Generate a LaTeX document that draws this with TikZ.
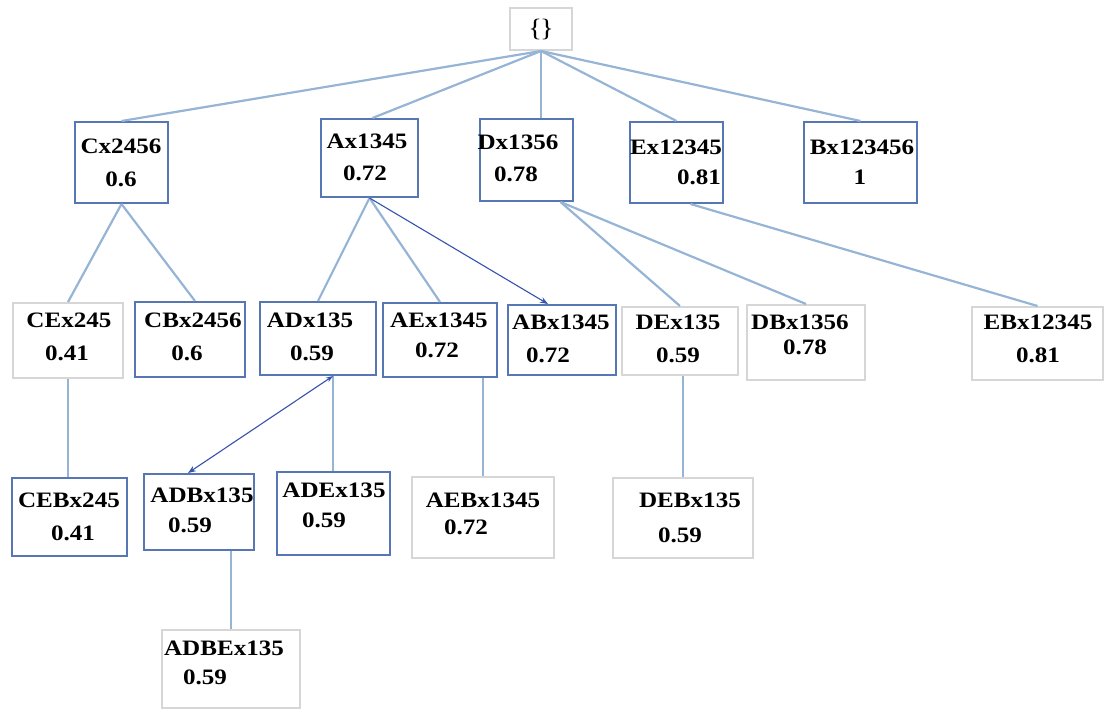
\documentclass[tikz,border=0pt]{standalone}
\usepackage{fontspec}
\setmainfont{Liberation Serif}[FakeStretch=1.14]
\usetikzlibrary{arrows.meta}
\definecolor{boxblue}{RGB}{86,119,179}
\definecolor{boxgray}{RGB}{214,214,214}
\definecolor{linkblue}{RGB}{150,180,214}
\definecolor{arrowblue}{RGB}{52,82,176}
\tikzset{
  bluebox/.style={draw=boxblue, line width=2pt, rectangle, inner sep=0pt},
  graybox/.style={draw=boxgray, line width=2pt, rectangle, inner sep=0pt},
  wh/.style 2 args={minimum width=#1pt, minimum height=#2pt},
  lbl/.style={inner sep=0pt, font=\fontsize{22}{26}\selectfont\bfseries},
  link/.style={draw=linkblue, line width=2.2pt},
  arr/.style={draw=arrowblue, line width=1.1pt, -{Stealth[length=8pt,width=6pt]}},
  darr/.style={draw=arrowblue, line width=1.1pt, {Stealth[length=7pt,width=5pt]}-{Stealth[length=8pt,width=6pt]}}
}
\begin{document}
\begin{tikzpicture}[x=1pt,y=-1pt]
\useasboundingbox (0,0) rectangle (1112,711);
% boxes
\node[graybox,wh={62}{42}] (top) at (541,29) {};
\node[bluebox,wh={93}{81}] (cx) at (121.5,162.5) {};
\node[bluebox,wh={97}{78}] (ax) at (369.5,158) {};
\node[bluebox,wh={93}{82}] (dx) at (526.5,160) {};
\node[bluebox,wh={93}{81}] (ex) at (676.5,162.5) {};
\node[bluebox,wh={113}{81}] (bx) at (860.5,162.5) {};
\node[graybox,wh={110}{75}] (cex) at (68,340.5) {};
\node[bluebox,wh={110}{75}] (cbx) at (190,339.5) {};
\node[bluebox,wh={116}{73}] (adx) at (318,338.5) {};
\node[bluebox,wh={114}{74}] (aex) at (440,340) {};
\node[bluebox,wh={108}{70}] (abx) at (562,340) {};
\node[graybox,wh={116}{68}] (dex) at (680,341) {};
\node[graybox,wh={118}{75}] (dbx) at (806,342.5) {};
\node[graybox,wh={131}{73}] (ebx) at (1037.5,343.5) {};
\node[bluebox,wh={115}{78}] (cebx) at (69.5,517) {};
\node[bluebox,wh={110}{76}] (adbx) at (199,512) {};
\node[bluebox,wh={113}{83}] (adex) at (333.5,513.5) {};
\node[graybox,wh={142}{81}] (aebx) at (483,517.5) {};
\node[graybox,wh={140}{80}] (debx) at (683,518) {};
\node[graybox,wh={138}{78}] (adbex) at (231,669) {};
% labels
\node[inner sep=0pt, font=\fontsize{25}{28}\selectfont] (topt) at (541,30) {\{\kern-2pt\}};
\node[lbl] (cxa) at (121,146) {Cx2456};
\node[lbl] (cxb) at (121,179) {0.6};
\node[lbl] (axa) at (367,141) {Ax1345};
\node[lbl] (axb) at (365,173) {0.72};
\node[lbl] (dxa) at (518,142) {Dx1356};
\node[lbl] (dxb) at (516,174) {0.78};
\node[lbl] (exa) at (676,147) {Ex12345};
\node[lbl] (exb) at (699,177) {0.81};
\node[lbl] (bxa) at (862,147) {Bx123456};
\node[lbl] (bxb) at (860,177) {1};
\node[lbl] (cexa) at (69,320) {CEx245};
\node[lbl] (cexb) at (67,353) {0.41};
\node[lbl] (cbxa) at (193,320) {CBx2456};
\node[lbl] (cbxb) at (187,353) {0.6};
\node[lbl] (adxa) at (310,320) {ADx135};
\node[lbl] (adxb) at (312,353) {0.59};
\node[lbl] (aexa) at (439,320) {AEx1345};
\node[lbl] (aexb) at (437,350) {0.72};
\node[lbl] (abxa) at (561,322) {ABx1345};
\node[lbl] (abxb) at (548,355) {0.72};
\node[lbl] (dexa) at (678,322) {DEx135};
\node[lbl] (dexb) at (678,355) {0.59};
\node[lbl] (dbxa) at (800,322) {DBx1356};
\node[lbl] (dbxb) at (805,347) {0.78};
\node[lbl] (ebxa) at (1038,322) {EBx12345};
\node[lbl] (ebxb) at (1038,355) {0.81};
\node[lbl] (cebxa) at (69,500) {CEBx245};
\node[lbl] (cebxb) at (73,533) {0.41};
\node[lbl] (adbxa) at (202,495) {ADBx135};
\node[lbl] (adbxb) at (190,525) {0.59};
\node[lbl] (adexa) at (334,490) {ADEx135};
\node[lbl] (adexb) at (324,520) {0.59};
\node[lbl] (aebxa) at (483,500) {AEBx1345};
\node[lbl] (aebxb) at (466,527) {0.72};
\node[lbl] (debxa) at (690,500) {DEBx135};
\node[lbl] (debxb) at (680,535) {0.59};
\node[lbl] (adbexa) at (224,648) {ADBEx135};
\node[lbl] (adbexb) at (205,677) {0.59};
% connectors
\draw[link] (top.south) -- (cx.north);
\draw[link] (top.south) -- ([xshift=3pt]ax.north);
\draw[link] (top.south) -- ([xshift=14.5pt]dx.north);
\draw[link] (top.south) -- (ex.north);
\draw[link] (top.south) -- (bx.north);
\draw[link] (cx.south) -- (cex.north);
\draw[link] (cx.south) -- ([xshift=5pt]cbx.north);
\draw[link] (ax.south) -- (adx.north);
\draw[link] (ax.south) -- (aex.north);
\draw[arr] (ax.south) -- ([xshift=-14pt]abx.north);
\draw[link] ([xshift=34pt]dx.south) -- (dex.north);
\draw[link] ([xshift=34pt]dx.south) -- (dbx.north);
\draw[link] ([xshift=14pt]ex.south) -- (ebx.north);
\draw[link] (cex.south) -- (cex.south |- cebx.north);
\draw[link] ([xshift=15pt]adx.south) -- ([xshift=15pt]adx.south |- adex.north);
\draw[darr] ([xshift=15pt]adx.south) -- ([xshift=-11pt]adbx.north);
\draw[link] (aebx.north |- aex.south) -- (aebx.north);
\draw[link] (debx.north |- dex.south) -- (debx.north);
\draw[link] (adbex.north |- adbx.south) -- (adbex.north);
\end{tikzpicture}
\end{document}
